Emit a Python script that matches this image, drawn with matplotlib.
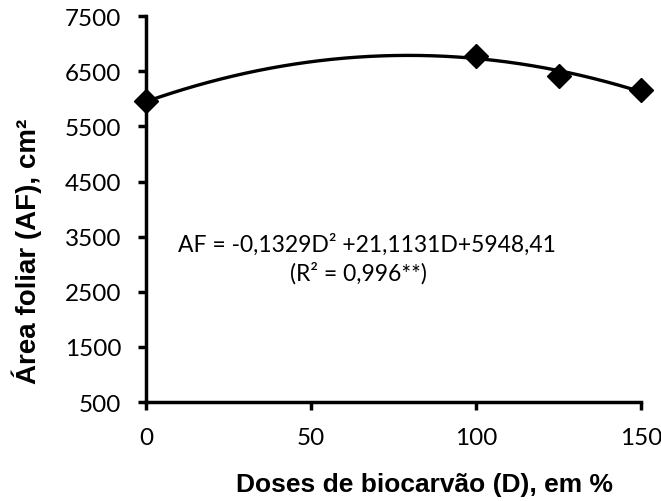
import matplotlib
matplotlib.use("Agg")
import matplotlib.pyplot as plt
import numpy as np

# doses de biocarvão (%) e área foliar observada (cm²)
doses = [0, 100, 125, 150]
area = [5955, 6775, 6410, 6155]
# coeficientes do ajuste quadrático
coef = [-0.1329, 21.1131, 5948.41]
yticks = [500, 1500, 2500, 3500, 4500, 5500, 6500, 7500]
xticks = [0, 50, 100, 150]

TICKFONT = "Lato"
LABFONT = "Liberation Sans"

fig = plt.figure(figsize=(6.61, 5.02), dpi=100)
ax = fig.add_axes([0.221, 0.197, 0.749, 0.769])

d = np.linspace(0, 150, 200)
ax.plot(d, np.polyval(coef, d), color="black", lw=2.4, zorder=2)
ax.plot(doses, area, ls="none", marker="D", ms=12, color="black", zorder=3, clip_on=False)

ax.set_xlim(0, 150)
ax.set_ylim(500, 7500)
ax.set_xticks(xticks)
ax.set_yticks(yticks)
for s in ("top", "right"):
    ax.spines[s].set_visible(False)
for s in ("left", "bottom"):
    ax.spines[s].set_linewidth(2.5)
ax.tick_params(direction="out", width=2.5, length=6, labelsize=17.5, pad=12)
for lab in ax.get_xticklabels() + ax.get_yticklabels():
    lab.set_fontfamily(TICKFONT)

ax.set_ylabel("Área foliar (AF), cm²", fontsize=20, fontweight="bold", family=LABFONT, labelpad=16)
ax.set_xlabel("Doses de biocarvão (D), em %", fontsize=19, fontweight="bold", family=LABFONT, labelpad=17)
ax.yaxis.label.set_y(0.394)
ax.xaxis.label.set_x(0.562)

ax.text(0.064, 0.409, "AF = -0,1329D² +21,1131D+5948,41", transform=ax.transAxes,
        fontsize=16.5, family=TICKFONT, va="center", ha="left")
ax.text(0.29, 0.337, "(R² = 0,996**)", transform=ax.transAxes,
        fontsize=16.5, family=TICKFONT, va="center", ha="left")

fig.savefig("out.png", dpi=100)
